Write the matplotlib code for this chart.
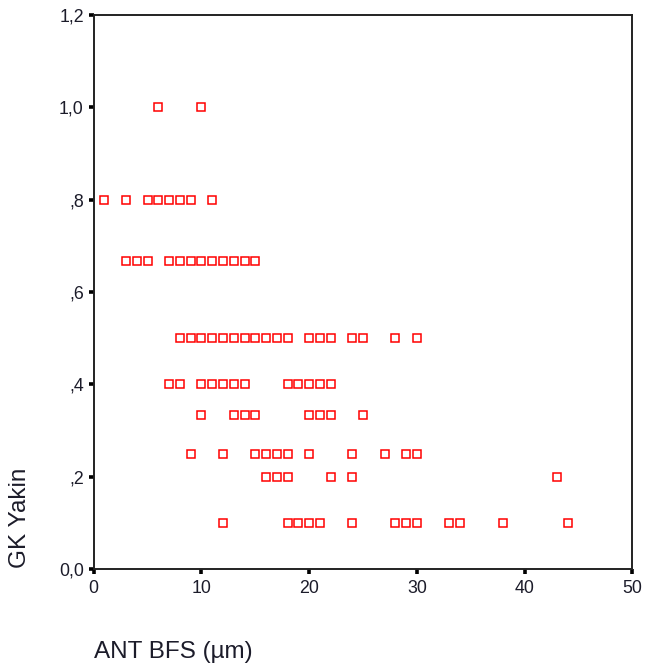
import matplotlib
matplotlib.use("Agg")
import matplotlib.pyplot as plt

# GK Yakin levels and the ANT BFS values observed at each level
y_levels = [1.0, 0.8, 2/3, 0.5, 0.4, 1/3, 0.25, 0.2, 0.1]
x_by_level = [
    [6, 10],
    [1, 3, 5, 6, 7, 8, 9, 11],
    [3, 4, 5, 7, 8, 9, 10, 11, 12, 13, 14, 15],
    [8, 9, 10, 11, 12, 13, 14, 15, 16, 17, 18, 20, 21, 22, 24, 25, 28, 30],
    [7, 8, 10, 11, 12, 13, 14, 18, 19, 20, 21, 22],
    [10, 13, 14, 15, 20, 21, 22, 25],
    [9, 12, 15, 16, 17, 18, 20, 24, 27, 29, 30],
    [16, 17, 18, 22, 24, 43],
    [12, 18, 19, 20, 21, 24, 28, 29, 30, 33, 34, 38, 44],
]

x_ticks = [0, 10, 20, 30, 40, 50]
y_ticks = [0.0, 0.2, 0.4, 0.6, 0.8, 1.0, 1.2]
y_tick_labels = ["0,0", ",2", ",4", ",6", ",8", "1,0", "1,2"]

xs, ys = [], []
for level, vals in zip(y_levels, x_by_level):
    xs.extend(vals)
    ys.extend([level] * len(vals))

plt.rcParams["font.family"] = ["Liberation Sans", "DejaVu Sans"]

W, H = 646, 671
fig = plt.figure(figsize=(W / 100, H / 100), dpi=100)
ax = fig.add_axes([93.7 / W, (H - 569) / H, (632.5 - 93.7) / W, (569 - 15) / H])

ax.plot(xs, ys, linestyle="none", marker="s", markersize=5.4,
        markerfacecolor="white", markeredgecolor="#ff0000", markeredgewidth=1.1)

ax.set_xlim(0, 50)
ax.set_ylim(0, 1.2)
ax.set_xticks(x_ticks)
ax.set_xticklabels([str(t) for t in x_ticks])
ax.set_yticks(y_ticks)
ax.set_yticklabels(y_tick_labels)

for s in ax.spines.values():
    s.set_linewidth(1.4)
    s.set_color("#222222")

ax.tick_params(axis="both", direction="out", length=3.6, width=2.6,
               color="black", labelsize=12.8, labelcolor="#1c1c2a")
ax.tick_params(axis="y", pad=3.5)
ax.tick_params(axis="x", pad=4.5)

fig.text(20 / W, (H - 568) / H, "GK Yakin", rotation=90, ha="center",
         va="bottom", fontsize=17.5, color="#1c1c2a")
fig.text(94 / W, (H - 658) / H, "ANT BFS (µm)", ha="left", va="baseline",
         fontsize=17.5, color="#1c1c2a")

fig.savefig("out.png", dpi=100)
